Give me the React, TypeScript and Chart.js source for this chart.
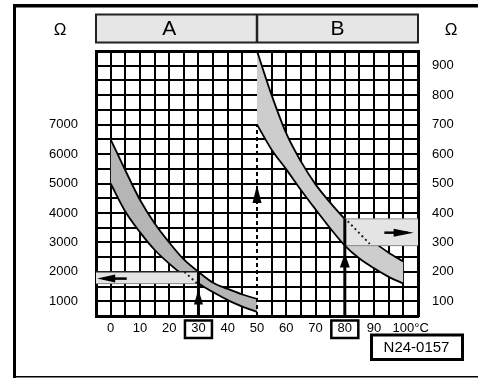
import React, { useEffect, useRef } from 'react';
import { Chart, registerables } from 'chart.js';

Chart.register(...registerables);

// ---- data ----
const tempsA = [0, 5, 10, 15, 20, 25, 30, 35, 40, 45, 50];
const upperA = [6500, 5450, 4450, 3650, 3000, 2420, 2000, 1630, 1420, 1230, 1080];
const lowerA = [5000, 4050, 3350, 2750, 2280, 1880, 1600, 1310, 1040, 820, 640];
const tempsB = [50, 55, 60, 65, 70, 75, 80, 85, 90, 95, 100];
const upperB = [950, 800, 670, 575, 497, 435, 380, 338, 300, 265, 235];
const lowerB = [700, 615, 548, 478, 412, 348, 289, 245, 212, 183, 160];

const xTickLabels = [0, 10, 20, 30, 40, 50, 60, 70, 80, 90, 100];
const leftTickLabels = [1000, 2000, 3000, 4000, 5000, 6000, 7000];
const rightTickLabels = [100, 200, 300, 400, 500, 600, 700, 800, 900];
const sectionLabels = ['A', 'B'];
const sectionCenters = [20, 77.5];
const sectionSplit = 50;
const unitOhm = 'Ω';
const unitTemp = '°C';
const codeLabel = 'N24-0157';

// example readings (temperature -> resistance band)
const readTemps = [30, 80];
const readBandA = [1600, 2000];
const readSpanA = [-5, 30];
const readBandB = [289, 380];
const readSpanB = [80, 105];
const pointerTipA = 1400;
const pointerTipB = 262;
const outArrowA = [5.5, -4.6, 1770]; // from temp, tip temp, ohm
const outArrowB = [93.5, 103.5, 333];
const dottedA = [[25.2, 2000], [29.6, 1600]];
const dottedB = [[81, 372], [88.5, 295]];
const crossover = [50, 500, 7000, 4950]; // temp, from, to, tip

const FONT = '"Liberation Sans", Arial, Helvetica, sans-serif';

function head(ctx: CanvasRenderingContext2D, tx: number, ty: number, dx: number, dy: number, len: number, w: number) {
  ctx.beginPath();
  ctx.moveTo(tx, ty);
  ctx.lineTo(tx - dx * len - dy * w / 2, ty - dy * len + dx * w / 2);
  ctx.lineTo(tx - dx * len + dy * w / 2, ty - dy * len - dx * w / 2);
  ctx.closePath();
  ctx.fill();
}

const decor = {
  id: 'decor',
  beforeDraw(chart: any) {
    const ctx = chart.ctx as CanvasRenderingContext2D;
    ctx.save();
    ctx.fillStyle = '#fff';
    ctx.fillRect(0, 0, chart.width, chart.height);
    ctx.restore();
  },
  afterDatasetsDraw(chart: any) {
    const ctx = chart.ctx as CanvasRenderingContext2D;
    const { x, y, y2 } = chart.scales;
    ctx.save();
    ctx.strokeStyle = '#000';
    ctx.fillStyle = '#000';
    // dashed crossover line at 50
    const cx = x.getPixelForValue(crossover[0]);
    ctx.lineWidth = 2;
    ctx.setLineDash([4, 3]);
    ctx.beginPath();
    ctx.moveTo(cx, y.getPixelForValue(crossover[1]));
    ctx.lineTo(cx, y.getPixelForValue(crossover[2]));
    ctx.stroke();
    ctx.setLineDash([]);
    head(ctx, cx, y.getPixelForValue(crossover[3]), 0, -1, 18, 9);

    // dotted lines
    ctx.lineWidth = 2;
    ctx.setLineDash([2, 3]);
    ctx.strokeStyle = '#222';
    ctx.beginPath();
    ctx.moveTo(x.getPixelForValue(dottedA[0][0]), y.getPixelForValue(dottedA[0][1]));
    ctx.lineTo(x.getPixelForValue(dottedA[1][0]), y.getPixelForValue(dottedA[1][1]));
    ctx.stroke();
    ctx.beginPath();
    ctx.moveTo(x.getPixelForValue(dottedB[0][0]), y2.getPixelForValue(dottedB[0][1]));
    ctx.lineTo(x.getPixelForValue(dottedB[1][0]), y2.getPixelForValue(dottedB[1][1]));
    ctx.stroke();
    ctx.setLineDash([]);
    ctx.strokeStyle = '#000';

    // vertical pointer A
    const ax = x.getPixelForValue(readTemps[0]);
    ctx.lineWidth = 3;
    ctx.beginPath();
    ctx.moveTo(ax, y.getPixelForValue(500));
    ctx.lineTo(ax, y.getPixelForValue(readBandA[1]));
    ctx.stroke();
    head(ctx, ax, y.getPixelForValue(pointerTipA), 0, -1, 15, 9);

    // vertical pointer B
    const bx = x.getPixelForValue(readTemps[1]);
    ctx.beginPath();
    ctx.moveTo(bx, y2.getPixelForValue(50));
    ctx.lineTo(bx, y2.getPixelForValue(readBandB[1]));
    ctx.stroke();
    head(ctx, bx, y2.getPixelForValue(pointerTipB), 0, -1, 14, 10);

    // horizontal output arrows
    ctx.lineWidth = 2.5;
    let yy = y.getPixelForValue(outArrowA[2]);
    ctx.beginPath();
    ctx.moveTo(x.getPixelForValue(outArrowA[0]), yy);
    ctx.lineTo(x.getPixelForValue(outArrowA[1]) + 6, yy);
    ctx.stroke();
    head(ctx, x.getPixelForValue(outArrowA[1]), yy, -1, 0, 18, 8);
    yy = y2.getPixelForValue(outArrowB[2]);
    ctx.beginPath();
    ctx.moveTo(x.getPixelForValue(outArrowB[0]), yy);
    ctx.lineTo(x.getPixelForValue(outArrowB[1]) - 6, yy);
    ctx.stroke();
    head(ctx, x.getPixelForValue(outArrowB[1]), yy, 1, 0, 20, 8);
    ctx.restore();
  },
  afterDraw(chart: any) {
    const ctx = chart.ctx as CanvasRenderingContext2D;
    const { x } = chart.scales;
    const area = chart.chartArea;
    ctx.save();
    // outer frame
    ctx.fillStyle = '#000';
    ctx.fillRect(13, 4, 3, 374);
    ctx.fillRect(13, 4, 465, 3.5);
    ctx.fillRect(13, 376, 465, 1.5);

    // header
    ctx.fillStyle = '#e6e6e6';
    ctx.fillRect(area.left, 14.5, area.right - area.left, 28);
    ctx.strokeStyle = '#222';
    ctx.lineWidth = 2;
    ctx.strokeRect(area.left, 14.5, area.right - area.left, 28);
    const sx = x.getPixelForValue(sectionSplit);
    ctx.lineWidth = 2.5;
    ctx.beginPath();
    ctx.moveTo(sx, 14.5);
    ctx.lineTo(sx, 42.5);
    ctx.stroke();
    ctx.fillStyle = '#000';
    ctx.textAlign = 'center';
    ctx.textBaseline = 'middle';
    ctx.font = `21px ${FONT}`;
    sectionLabels.forEach((s, i) => ctx.fillText(s, x.getPixelForValue(sectionCenters[i]), 29));

    // units
    ctx.font = `17px ${FONT}`;
    ctx.fillText(unitOhm, 60, 30);
    ctx.fillText(unitOhm, 451, 30);

    // °C after 100 label
    ctx.font = `13px ${FONT}`;
    const w100 = ctx.measureText(String(xTickLabels[xTickLabels.length - 1])).width;
    ctx.textAlign = 'left';
    const labelY = x.top + 5 + 13 * 1.2 / 2;
    ctx.fillText(unitTemp, x.getPixelForValue(xTickLabels[xTickLabels.length - 1]) + w100 / 2, labelY);

    // boxes around the read temperatures
    ctx.strokeStyle = '#000';
    ctx.lineWidth = 2.5;
    readTemps.forEach((t) => {
      const px = x.getPixelForValue(t);
      ctx.strokeRect(px - 13.5, 320.5, 27, 17.5);
    });

    // code label
    ctx.lineWidth = 3;
    ctx.strokeRect(371.5, 335, 91, 24.5);
    ctx.textAlign = 'center';
    ctx.font = `15px ${FONT}`;
    ctx.fillText(codeLabel, 416.5, 348);
    ctx.restore();
  },
};

export default function App() {
  const ref = useRef<HTMLCanvasElement>(null);
  useEffect(() => {
    const pts = (xs: number[], ys: number[]) => xs.map((t, i) => ({ x: t, y: ys[i] }));
    const band = {
      pointRadius: 0,
      borderColor: '#000',
      borderWidth: 1.8,
      cubicInterpolationMode: 'monotone' as const,
      order: 10,
    };
    const light = { pointRadius: 0, borderWidth: 1, borderColor: '#888', order: 5 };
    const chart = new Chart(ref.current as HTMLCanvasElement, {
      type: 'line',
      data: {
        datasets: [
          { ...band, label: 'A upper', data: pts(tempsA, upperA), yAxisID: 'y', fill: false },
          { ...band, label: 'A lower', data: pts(tempsA, lowerA), yAxisID: 'y', fill: '-1', backgroundColor: '#b5b5b5' },
          { ...band, label: 'B upper', data: pts(tempsB, upperB), yAxisID: 'y2', fill: false },
          { ...band, label: 'B lower', data: pts(tempsB, lowerB), yAxisID: 'y2', fill: '-1', backgroundColor: '#cdcdcd' },
          { ...light, label: 'A read hi', data: pts(readSpanA, [readBandA[1], readBandA[1]]), yAxisID: 'y', fill: false, borderColor: '#222', borderWidth: 1.5 },
          { ...light, label: 'A read lo', data: pts(readSpanA, [readBandA[0], readBandA[0]]), yAxisID: 'y', fill: '-1', backgroundColor: '#e4e4e4' },
          { ...light, label: 'B read hi', data: pts(readSpanB, [readBandB[1], readBandB[1]]), yAxisID: 'y2', fill: false },
          { ...light, label: 'B read lo', data: pts(readSpanB, [readBandB[0], readBandB[0]]), yAxisID: 'y2', fill: '-1', backgroundColor: '#e4e4e4' },
        ],
      },
      options: {
        responsive: false,
        animation: false,
        events: [],
        layout: { padding: { left: 0, right: 0, top: 51, bottom: 0 } },
        plugins: { legend: { display: false }, tooltip: { enabled: false } },
        scales: {
          x: {
            type: 'linear',
            min: -5,
            max: 105,
            afterFit: (s: any) => { s.height = 62; },
            ticks: {
              stepSize: 5,
              autoSkip: false,
              maxRotation: 0,
              minRotation: 0,
              padding: 5,
              color: '#000',
              font: { family: FONT, size: 13 },
              callback: (v: any) => (xTickLabels.includes(Number(v)) ? String(v) : ''),
            },
            grid: {
              color: (c: any) => (c.tick && c.tick.value === sectionSplit ? 'rgba(0,0,0,0)' : '#000'),
              lineWidth: 2,
              drawTicks: false,
            },
            border: { display: true, color: '#000', width: 3 },
          },
          y: {
            type: 'linear',
            position: 'left',
            min: 500,
            max: 9500,
            afterFit: (s: any) => { s.width = 96; },
            ticks: {
              stepSize: 500,
              autoSkip: false,
              padding: 18,
              color: '#000',
              font: { family: FONT, size: 13 },
              callback: (v: any) => (leftTickLabels.includes(Number(v)) ? String(v) : ''),
            },
            grid: {
              color: '#000',
              lineWidth: (c: any) => (c.tick && c.tick.value === 9500 ? 3 : 2),
              drawTicks: false,
            },
            border: { display: true, color: '#000', width: 3 },
          },
          y2: {
            type: 'linear',
            position: 'right',
            min: 50,
            max: 950,
            afterFit: (s: any) => { s.width = 60; },
            ticks: {
              stepSize: 50,
              autoSkip: false,
              padding: 14,
              color: '#000',
              font: { family: FONT, size: 13 },
              callback: (v: any) => (rightTickLabels.includes(Number(v)) ? String(v) : ''),
            },
            grid: { display: false, drawTicks: false },
            border: { display: true, color: '#000', width: 3 },
          },
        },
      },
      plugins: [decor],
    } as any);
    return () => chart.destroy();
  }, []);
  return (
    <div style={{ position: 'fixed', left: 0, top: 0, width: 478, height: 378, background: '#fff' }}>
      <canvas ref={ref} width={478} height={378} style={{ display: 'block', width: 478, height: 378 }} />
    </div>
  );
}
